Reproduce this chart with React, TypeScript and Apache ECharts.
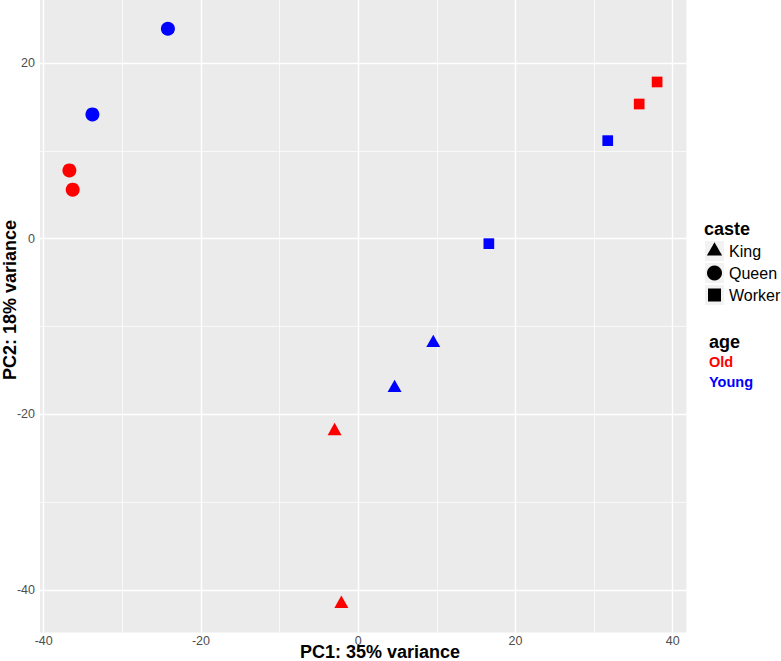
import React, { useEffect, useRef } from "react";
import * as echarts from "echarts";

// PCA sample data
const pc1 = [-24.2, -33.8, -36.73, -36.31, 38.02, 35.74, 31.74, 16.62, 9.55, 4.63, -3.0, -2.14];
const pc2 = [23.9, 14.15, 7.77, 5.58, 17.84, 15.33, 11.16, -0.57, -11.86, -16.98, -21.9, -41.57];
const caste = ["Queen", "Queen", "Queen", "Queen", "Worker", "Worker", "Worker", "Worker", "King", "King", "King", "King"];
const age = ["Young", "Young", "Old", "Old", "Old", "Old", "Young", "Young", "Young", "Young", "Old", "Old"];

const casteLevels = ["King", "Queen", "Worker"];
const ageLevels = ["Old", "Young"];
const ageColors = ["#FF0000", "#0000FF"];

const xTicks = [-40, -20, 0, 20, 40];
const xMinor = [-30, -10, 10, 30];
const yTicks = [-40, -20, 0, 20];
const yMinor = [-30, -10, 10];

const FONT = "'Liberation Sans', Arial, Helvetica, sans-serif";
const NARROW = "'Liberation Sans Narrow', 'Arial Narrow', 'Liberation Sans', Arial, sans-serif";

export default function App() {
  const ref = useRef<HTMLDivElement>(null);
  useEffect(() => {
    if (!ref.current) return;
    const chart = echarts.init(ref.current, null, { renderer: "svg" });

    const xr = Math.max(...pc1) - Math.min(...pc1);
    const yr = Math.max(...pc2) - Math.min(...pc2);
    const xMin = Math.min(...pc1) - 0.05 * xr;
    const xMax = Math.max(...pc1) + 0.05 * xr;
    const yMin = Math.min(...pc2) - 0.05 * yr;
    const yMax = Math.max(...pc2) + 0.05 * yr;

    const symbolFor: Record<string, any> = {
      King: { symbol: "triangle", symbolSize: [14, 12.3], symbolOffset: [0, -2] },
      Queen: { symbol: "circle", symbolSize: 14, symbolOffset: [0, 0] },
      Worker: { symbol: "rect", symbolSize: 10.7, symbolOffset: [0, 0] },
    };

    const scatterSeries = casteLevels.map((c) => ({
      type: "scatter",
      name: c,
      z: 5,
      ...symbolFor[c],
      data: pc1
        .map((x, i) => ({ i, x }))
        .filter((d) => caste[d.i] === c)
        .map((d) => ({
          value: [d.x, pc2[d.i]],
          itemStyle: { color: ageColors[ageLevels.indexOf(age[d.i])], opacity: 1 },
        })),
    }));

    const major = { color: "#FFFFFF", width: 1.4, type: "solid" };
    const minor = { color: "#FFFFFF", width: 0.7, type: "solid" };

    const gridSeries = {
      type: "line",
      z: 1,
      symbol: "none",
      silent: true,
      data: [[xMin, yMin]],
      lineStyle: { opacity: 0 },
      markLine: {
        silent: true,
        symbol: "none",
        label: { show: false },
        animation: false,
        data: [
          ...xMinor.map((v) => ({ xAxis: v, lineStyle: minor })),
          ...yMinor.map((v) => ({ yAxis: v, lineStyle: minor })),
          ...xTicks.map((v) => ({ xAxis: v, lineStyle: major })),
          ...yTicks.map((v) => ({ yAxis: v, lineStyle: major })),
        ],
      },
    };

    const legendX = 714.5;
    const keyY = [251, 273, 295];
    const legendGraphics: any[] = [
      { type: "text", style: { text: "caste", x: 704, y: 229, font: `bold 18px ${FONT}`, fill: "#000", textAlign: "left", textVerticalAlign: "middle" } },
      ...keyY.map((y) => ({ type: "rect", shape: { x: legendX - 9.5, y: y - 10, width: 19, height: 20 }, style: { fill: "#F2F2F2" } })),
      { type: "polygon", shape: { points: [[legendX, keyY[0] - 8.8], [legendX + 7.6, keyY[0] + 4.4], [legendX - 7.6, keyY[0] + 4.4]] }, style: { fill: "#000" } },
      { type: "circle", shape: { cx: legendX, cy: keyY[1], r: 7.5 }, style: { fill: "#000" } },
      { type: "rect", shape: { x: legendX - 6.5, y: keyY[2] - 6.5, width: 13, height: 13 }, style: { fill: "#000" } },
      ...casteLevels.map((c, i) => ({
        type: "text",
        style: { text: c, x: 729, y: keyY[i], font: `16px ${FONT}`, fill: "#000", textAlign: "left", textVerticalAlign: "middle" },
      })),
      { type: "text", style: { text: "age", x: 709, y: 341.7, font: `bold 18px ${FONT}`, fill: "#000", textAlign: "left", textVerticalAlign: "middle" } },
      ...ageLevels.map((a, i) => ({
        type: "text",
        style: { text: a, x: 709, y: 361.7 + i * 20, font: `bold 14.5px ${FONT}`, fill: ageColors[i], textAlign: "left", textVerticalAlign: "middle" },
      })),
      { type: "text", style: { text: "PC1: 35% variance", x: 380, y: 652, font: `bold 18px ${FONT}`, fill: "#000", textAlign: "center", textVerticalAlign: "middle", lineHeight: 16 } },
      {
        type: "text",
        x: 10,
        y: 300,
        rotation: Math.PI / 2,
        style: { text: "PC2: 18% variance", x: 0, y: 0, font: `bold 18px ${FONT}`, fill: "#000", textAlign: "center", textVerticalAlign: "middle" },
      },
    ];

    chart.setOption({
      animation: false,
      grid: { left: 40, right: 94.5, top: 0, bottom: 28.5, show: true, backgroundColor: "#EBEBEB", borderWidth: 0 },
      xAxis: {
        type: "value",
        min: xMin,
        max: xMax,
        axisLine: { show: false },
        splitLine: { show: false },
        axisTick: { show: true, customValues: xTicks, length: 3, lineStyle: { color: "#333333", width: 1 } },
        axisLabel: { customValues: xTicks, fontSize: 12.5, lineHeight: 10, color: "#4D4D4D", margin: 3, fontFamily: NARROW },
      },
      yAxis: {
        type: "value",
        min: yMin,
        max: yMax,
        axisLine: { show: false },
        splitLine: { show: false },
        axisTick: { show: true, customValues: yTicks, length: 3, lineStyle: { color: "#333333", width: 1 } },
        axisLabel: { customValues: yTicks, fontSize: 12.5, color: "#4D4D4D", margin: 5, fontFamily: NARROW },
      },
      series: [gridSeries, ...scatterSeries],
      graphic: legendGraphics,
    });

    return () => chart.dispose();
  }, []);

  return <div ref={ref} style={{ position: "fixed", left: 0, top: 0, width: 781, height: 661, background: "#fff" }} />;
}
